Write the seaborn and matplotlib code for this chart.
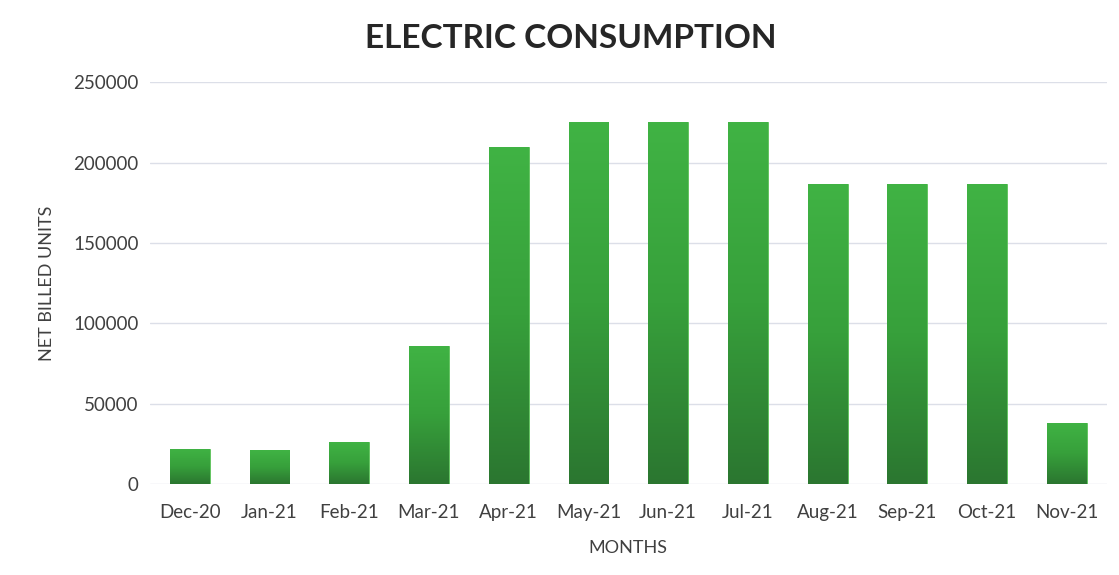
import numpy as np
import pandas as pd
import matplotlib
matplotlib.use("Agg")
import matplotlib.pyplot as plt
import seaborn as sns
from matplotlib.colors import LinearSegmentedColormap

months = ["Dec-20", "Jan-21", "Feb-21", "Mar-21", "Apr-21", "May-21",
          "Jun-21", "Jul-21", "Aug-21", "Sep-21", "Oct-21", "Nov-21"]
units = [22000, 21000, 26000, 86000, 210000, 225000,
         225000, 225000, 187000, 187000, 187000, 38000]
y_ticks = [0, 50000, 100000, 150000, 200000, 250000]

df = pd.DataFrame({"month": months, "units": units})

sns.set_theme(style="white")
plt.rcParams["font.family"] = ["Lato", "DejaVu Sans"]

fig = plt.figure(figsize=(11.19, 5.75), dpi=100)
ax = fig.add_axes([0.134, 0.158, 0.855, 0.699])

sns.barplot(data=df, x="month", y="units", ax=ax, color="#37a33a",
            width=0.5, saturation=1.0, zorder=3)

# vertical green gradient inside every bar: lighter on top, darker at the base
cmap = LinearSegmentedColormap.from_list("bar_grad", ["#2b7630", "#37a03b", "#40b344"])
grad = np.linspace(0, 1, 256).reshape(-1, 1)
for patch in ax.patches:
    x0, y0 = patch.get_x(), patch.get_y()
    w, h = patch.get_width(), patch.get_height()
    im = ax.imshow(grad, cmap=cmap, origin="lower", aspect="auto",
                   extent=[x0, x0 + w, y0, y0 + h], zorder=4)
    im.set_clip_path(patch)
    patch.set_edgecolor("#5cc45a")
    patch.set_linewidth(0.6)

ax.set_xlim(-0.5, len(months) - 0.5)
ax.set_ylim(0, 250000)
ax.set_yticks(y_ticks)
ax.set_yticklabels([str(v) for v in y_ticks])
ax.yaxis.grid(True, color="#dcdfe8", linewidth=1.0, zorder=0)
ax.xaxis.grid(False)
for s in ax.spines.values():
    s.set_visible(False)
ax.tick_params(axis="both", length=0, labelsize=13.5, colors="#404040")
ax.tick_params(axis="y", pad=8)
ax.tick_params(axis="x", pad=14)

ax.set_xlabel("MONTHS", fontsize=13, color="#404040", labelpad=14)
ax.set_ylabel("NET BILLED UNITS", fontsize=13, color="#404040", labelpad=13)
fig.suptitle("ELECTRIC CONSUMPTION", fontsize=24, fontweight="bold",
             color="#262626", x=0.51, y=0.958)

fig.savefig("out.png", dpi=100, facecolor="white")
